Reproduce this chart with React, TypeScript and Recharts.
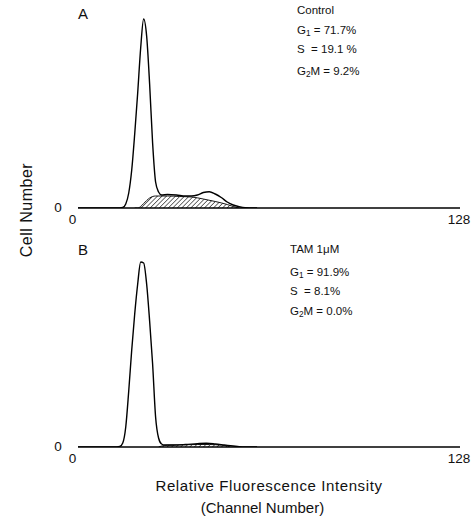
import React from "react";
import { ComposedChart, Line, Area, XAxis, YAxis } from "recharts";

// ---- Panel A (Control) ----
const envChannelsA = [0, 10, 14, 15, 16, 17, 18, 19, 20, 21, 22, 23, 24, 25, 26, 27, 28, 30, 33, 36, 38, 40, 42, 44, 46, 48, 50, 52, 54, 56, 60];
const envCountsA = [0, 0, 0, 0.5, 4, 15, 38, 74, 115, 160, 189, 172, 124, 65, 26, 16, 13, 13.5, 13, 12, 12, 13, 15.5, 16.3, 14, 10.5, 6, 3, 1.3, 0.3, 0];
const sChannelsA = [19, 20, 21, 22, 23, 24, 25, 26, 28, 30, 34, 38, 42, 46, 50, 52, 54];
const sCountsA = [0, 0, 1.5, 4.5, 7.5, 10, 11.5, 12, 12, 12, 11.5, 11, 9, 6.5, 3.5, 1.5, 0];
const labelsA = ["Control", "71.7%", "19.1 %", "9.2%"];

// ---- Panel B (TAM 1 µM) ----
const envChannelsB = [0, 10, 13, 14, 15, 16, 17, 18, 19, 20, 21, 22, 23, 24, 25, 26, 27, 28, 29, 32, 36, 40, 43, 46, 49, 52, 54, 56, 60];
const envCountsB = [0, 0, 0, 0.5, 4, 20, 56, 97, 133, 163, 185, 184, 163, 126, 83, 30, 9, 3, 2, 2, 2.5, 3.3, 3.7, 3, 2, 1, 0.3, 0, 0];
const sChannelsB = [27, 28, 30, 34, 40, 44, 48, 50, 51];
const sCountsB = [0, 1, 1.8, 2, 2.5, 2.5, 1.8, 1, 0];
const labelsB = ["TAM 1\u03bcM", "91.9%", "8.1%", "0.0%"];

const xTicks = [0, 128];
const yTicks = [0];

const toRows = (ch: number[], v: number[]) => ch.map((c, i) => ({ ch: c, v: v[i] }));

const FONT = "'Liberation Sans', Arial, sans-serif";

const XTick = (props: any) => {
  const { x, y, payload } = props;
  const dx = payload.value === 0 ? -5.5 : -1;
  return (
    <text x={x + dx} y={y + 11} textAnchor="middle" dominantBaseline="central" fontFamily={FONT} fontSize={13.5} fill="#111">
      {payload.value}
    </text>
  );
};

const YTick = (props: any) => {
  const { x, y, payload } = props;
  return (
    <text x={x} y={y - 1} textAnchor="middle" dominantBaseline="central" fontFamily={FONT} fontSize={13.5} fill="#111">
      {payload.value}
    </text>
  );
};

function Panel(props: { env: any[]; s: any[]; pid: string; top: number; mt: number }) {
  const { env, s, pid, top, mt } = props;
  return (
    <div style={{ position: "absolute", left: 0, top }}>
      <ComposedChart width={475} height={mt + 200 + 30} margin={{ top: mt, right: 15, bottom: 0, left: 48 }}>
        <defs>
          <pattern id={pid} patternUnits="userSpaceOnUse" width={3.2} height={3.2} patternTransform="rotate(45)">
            <line x1={0} y1={0} x2={0} y2={3.2} stroke="#000" strokeWidth={1.1} />
          </pattern>
        </defs>
        <XAxis
          type="number"
          dataKey="ch"
          domain={[0, 128]}
          ticks={xTicks}
          interval={0}
          allowDataOverflow
          height={30}
          tickLine={false}
          tickSize={0}
          tickMargin={0}
          axisLine={{ stroke: "#000", strokeWidth: 1.5 }}
          tick={<XTick />}
        />
        <YAxis
          type="number"
          domain={[0, 200]}
          ticks={yTicks}
          interval={0}
          allowDataOverflow
          width={30}
          axisLine={false}
          tickLine={false}
          tickSize={0}
          tickMargin={20}
          tick={<YTick />}
        />
        <Area
          data={s}
          dataKey="v"
          type="monotone"
          fill={`url(#${pid})`}
          fillOpacity={1}
          stroke="#000"
          strokeWidth={0.9}
          dot={false}
          activeDot={false}
          isAnimationActive={false}
        />
        <Line
          data={env}
          dataKey="v"
          type="monotone"
          stroke="#000"
          strokeWidth={1.4}
          dot={false}
          activeDot={false}
          isAnimationActive={false}
        />
      </ComposedChart>
    </div>
  );
}

const txt = (left: number, cy: number, fs: number, content: React.ReactNode, extra: React.CSSProperties = {}) => (
  <div
    style={{
      position: "absolute",
      left,
      top: cy - fs / 2,
      fontSize: fs,
      lineHeight: 1,
      fontFamily: FONT,
      color: "#111",
      whiteSpace: "nowrap",
      ...extra,
    }}
  >
    {content}
  </div>
);

const sub = (t: string) => (
  <sub style={{ fontSize: "0.72em", verticalAlign: "-0.25em", lineHeight: 0 }}>{t}</sub>
);

function Annot(props: { left: number; ys: number[]; labels: string[] }) {
  const { left, ys, labels } = props;
  const fs = 11.5;
  return (
    <>
      {txt(left, ys[0], fs, labels[0])}
      {txt(left, ys[1], fs, <>G{sub("1")} = {labels[1]}</>)}
      {txt(left, ys[2], fs, <>S&nbsp; = {labels[2]}</>)}
      {txt(left, ys[3], fs, <>G{sub("2")}M = {labels[3]}</>)}
    </>
  );
}

export default function App() {
  return (
    <div style={{ position: "absolute", left: 0, top: 0, width: 475, height: 516, background: "#fff", overflow: "hidden" }}>
      <Panel env={toRows(envChannelsA, envCountsA)} s={toRows(sChannelsA, sCountsA)} pid="hatchA" top={0} mt={8} />
      <Panel env={toRows(envChannelsB, envCountsB)} s={toRows(sChannelsB, sCountsB)} pid="hatchB" top={238} mt={9} />

      {txt(78, 13, 15, "A")}
      {txt(78, 249, 15, "B")}

      <Annot left={297} ys={[11, 31, 50, 71.5]} labels={labelsA} />
      <Annot left={290} ys={[250, 272.5, 291.5, 311.5]} labels={labelsB} />

      <div
        style={{
          position: "absolute",
          left: 27 - 60,
          top: 210 - 9,
          width: 120,
          height: 18,
          lineHeight: "18px",
          textAlign: "center",
          fontSize: 16,
          fontFamily: FONT,
          letterSpacing: 0.5,
          color: "#111",
          transform: "rotate(-90deg)",
          transformOrigin: "50% 50%",
          whiteSpace: "nowrap",
        }}
      >
        Cell Number
      </div>

      <div style={{ position: "absolute", left: 0, width: 538, top: 477, textAlign: "center", fontSize: 15, lineHeight: "18px", fontFamily: FONT, letterSpacing: 0.6, color: "#111" }}>
        Relative Fluorescence Intensity
      </div>
      <div style={{ position: "absolute", left: 0, width: 525, top: 499, textAlign: "center", fontSize: 15, lineHeight: "18px", fontFamily: FONT, color: "#111" }}>
        (Channel Number)
      </div>
    </div>
  );
}
